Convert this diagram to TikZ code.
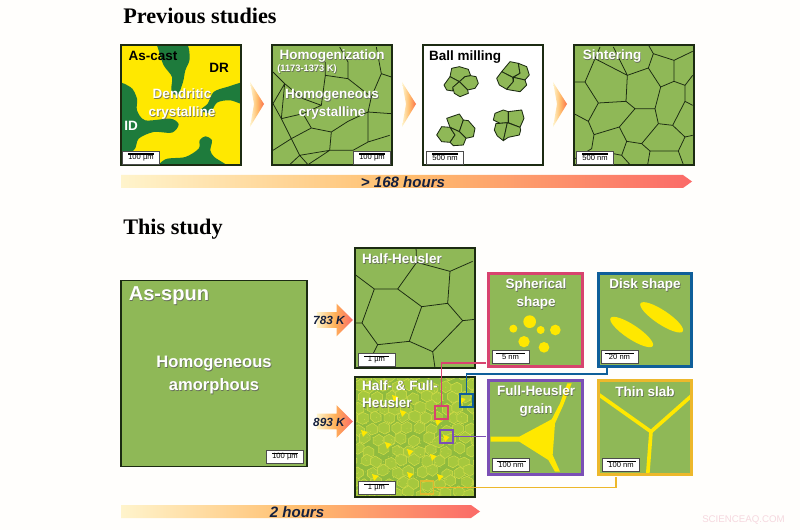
\documentclass[tikz,border=0pt]{standalone}
\usepackage{fontspec}
\setmainfont{Liberation Sans}
\newfontfamily\titlefont{Liberation Serif}
\usepackage{tikz}
\usetikzlibrary{shapes,arrows,positioning}

\definecolor{pagebg}{HTML}{FFFEFC}
\definecolor{grainfill}{HTML}{8FB857}
\definecolor{panelline}{HTML}{1C2B12}
\definecolor{dendgreen}{HTML}{1E7B3C}
\definecolor{dendyellow}{HTML}{FFE800}
\definecolor{barpale}{HTML}{FFF4CC}
\definecolor{barmid}{HTML}{FFBE6E}
\definecolor{barred}{HTML}{FB6A68}
\definecolor{labelblue}{HTML}{16213F}
\definecolor{pinkline}{HTML}{D8436F}
\definecolor{blueline}{HTML}{0F5F9A}
\definecolor{purpleline}{HTML}{7B4FB5}
\definecolor{goldline}{HTML}{EDB82B}
\definecolor{limebg}{HTML}{8FBB3F}
\definecolor{cellgreen}{HTML}{A6C83E}
\definecolor{cellrim}{HTML}{D8E04A}
\definecolor{markpink}{HTML}{F6D8DF}

\tikzset{
  panel/.style={draw=panelline, line width=1.1pt, fill=grainfill, minimum size=3cm, inner sep=0pt},
  inset/.style={draw=#1, line width=2.2pt, fill=grainfill, minimum size=2.33cm, inner sep=0pt},
  grainline/.style={draw=panelline, line width=0.55pt, line join=round},
  crumb/.style={draw=panelline, fill=grainfill, line width=0.6pt, line join=round},
  scalebox/.style={draw=black!70, line width=0.3pt, fill=white, minimum width=0.92cm, minimum height=0.32cm,
    inner sep=0pt, font=\fontsize{5.4}{6}\selectfont},
  scaleline/.style={draw=black, line width=1.1pt},
  plainlbl/.style={font=\fontsize{9.6}{11.5}\selectfont\bfseries, align=center, inner sep=0pt},
  whitelbl/.style={plainlbl, text=white},
  shadelbl/.style={plainlbl, text=black!65, opacity=0.75},
  titlelbl/.style={font=\titlefont\fontsize{15.8}{18}\selectfont\bfseries, anchor=west, inner sep=0pt},
  timelbl/.style={font=\fontsize{10.7}{12}\selectfont\bfseries\itshape, text=labelblue, inner sep=0pt},
  templbl/.style={font=\fontsize{8.4}{10}\selectfont\bfseries\itshape, text=labelblue, inner sep=0pt},
  timebar/.style={left color=barpale, right color=barred, middle color=barmid},
  temparrow/.style={shape=single arrow, left color=barpale, right color=barred, middle color=barmid!80!orange,
    minimum width=0.8cm, minimum height=0.9cm, single arrow head extend=0.21cm, single arrow tip angle=90,
    inner xsep=0pt, inner ysep=0.19cm},
  link/.style={line width=1.05pt, line join=miter},
  pickbox/.style={draw=#1, line width=1.05pt, minimum size=0.32cm, inner sep=0pt},
}

% white panel label with its soft shadow
\newcommand{\shlabel}[4][]{%
  \node[shadelbl, #1] (#2s) at ([shift={(0.7,0.8)}]#3) {#4};
  \node[whitelbl, #1] (#2) at (#3) {#4};
}
% scale box with its black bar
\newcommand{\scalebar}[4]{%
  \node[scalebox] (#1) at (#2) {\raisebox{-2pt}{#4}};
  \coordinate (#1bar) at ([yshift=-2.2pt]#1.north);
  \draw[scaleline] ([xshift=-#3*0.0125cm]#1bar) -- ([xshift=#3*0.0125cm]#1bar);
}
% bar with an arrow end
\newcommand{\timearrow}[3]{%
  \shade[timebar] (121,#1) -- (#2,#1) -- (#3,#1+6.5) -- (#2,#1+13) -- (121,#1+13) -- cycle;
}
% chevron between two panels
\newcommand{\chevron}[1]{%
  \shade[left color=barpale, right color=barred!70!orange, middle color=barmid] (#1,82) -- (#1+14,104) -- (#1,127) -- (#1+4,104) -- cycle;
}
% clip to the inside of a panel's border
\newcommand{\clipinside}[2]{%
  \clip ([shift={(#2,#2)}]#1.north west) rectangle ([shift={(-#2,-#2)}]#1.south east);
}

\begin{document}
\begin{tikzpicture}[x=0.025cm, y=-0.025cm]
  \useasboundingbox (0,0) rectangle (800,530);
  \fill[pagebg] (0,0) rectangle (800,530);

  % Titles
  \node[titlelbl] (prevtitle) at (123,16) {Previous studies};
  \node[titlelbl] (thistitle) at (123,229) {This study};

  % As-cast
  \node[panel, fill=dendyellow] (ascast) at (181,105) {};
  \begin{scope}[shift={(117,42)}, scale=1/3]
    \clipinside{ascast}{6}
    \fill[dendgreen] plot [smooth cycle] coordinates {(125,0) (125,25) (140,70) (165,105) (163,145) (182,160) (198,120) (205,85) (218,50) (205,0)};
    \fill[dendgreen] plot [smooth cycle] coordinates {(400,120) (330,135) (290,150) (272,185) (250,205) (280,212) (300,182) (340,175) (400,190)};
    \fill[dendgreen] plot [smooth cycle] coordinates {(-10,135) (40,135) (60,170) (60,205) (85,235) (160,230) (185,247) (165,272) (110,270) (65,290) (50,325) (-10,345)};
    \fill[dendgreen] plot [smooth cycle] coordinates {(130,385) (145,352) (205,345) (245,320) (248,295) (265,283) (285,295) (280,325) (292,345) (335,385)};
  \end{scope}
  \node[plainlbl] (ascastlbl) at (153,56) {As-cast};
  \node[plainlbl] (drlbl) at (219,68) {DR};
  \node[whitelbl] (idlbl) at (131,126) {ID};
  \shlabel{dendlbl}{182,104}{Dendritic\\[1pt]crystalline}
  \scalebar{ascastbar}{141,157.5}{26}{100 µm}

  % Homogenization
  \node[panel] (homog) at (332,105) {};
  \begin{scope}[shift={(268,42)}, scale=1/3]
    \clipinside{homog}{3}
    \draw[grainline] (325,15) -- (340,95) -- (370,105) (340,95) -- (310,165) -- (240,110) -- (240,60) -- (215,15)
      (240,110) -- (172,100) -- (160,190) -- (105,215) -- (130,258) -- (190,270) -- (240,238) -- (300,210) -- (370,215)
      (310,165) -- (300,210) -- (300,300) -- (365,280) (300,300) -- (255,325) -- (185,325)
      (15,90) -- (50,125) -- (15,185) (50,125) -- (105,170) -- (160,190) (172,100) -- (172,60)
      (50,125) -- (40,230) -- (15,185) (40,230) -- (105,215) (40,230) -- (70,290) -- (130,258) (70,290) -- (15,325)
      (70,290) -- (95,340) -- (185,325) -- (190,270) (185,325) -- (120,368) (95,340) -- (65,368) (95,340) -- (120,368);
  \end{scope}
  \shlabel{homoglbl}{332,56}{Homogenization}
  \shlabel[font=\fontsize{6.6}{8}\selectfont\bfseries]{templbl}{307,69}{(1173-1373 K)}
  \shlabel{homogbody}{332,104}{Homogeneous\\[1pt]crystalline}
  \scalebar{homogbar}{372,157.5}{26}{100 µm}

  % Ball milling
  \node[panel, fill=white] (ball) at (483,105) {};
  \begin{scope}[shift={(400,30)}, scale=1/3]
    \foreach \crumbpts in {
      {(150,140) (155,115) (178,110) (205,118) (212,137) (195,140) (178,155)},
      {(150,140) (178,155) (160,172) (158,183) (140,180) (132,165)},
      {(195,140) (212,137) (228,140) (235,160) (225,175) (203,180) (178,155)},
      {(178,155) (203,180) (205,190) (180,200) (163,190) (158,172)},
      {(305,125) (330,95) (355,100) (360,130) (338,142)},
      {(355,100) (380,110) (388,135) (375,150) (340,142) (360,130)},
      {(305,125) (338,142) (340,155) (320,178) (298,165) (290,145)},
      {(340,142) (375,150) (380,165) (360,185) (330,180) (320,178) (340,155)},
      {(140,265) (178,252) (190,270) (178,305) (150,292)},
      {(190,270) (205,272) (225,295) (220,320) (198,325) (178,305)},
      {(125,290) (150,292) (165,315) (150,337) (125,335) (110,315)},
      {(150,292) (178,305) (198,325) (190,345) (160,347) (150,337) (165,315)},
      {(285,250) (310,240) (325,245) (325,278) (300,280) (280,270)},
      {(325,245) (365,240) (372,265) (360,292) (325,278)},
      {(288,280) (300,280) (322,278) (315,310) (310,332) (292,318) (283,300)},
      {(322,278) (360,292) (362,300) (358,315) (325,322) (310,332) (315,310)}}
    {
      \draw[crumb] plot [sharp cycle] coordinates \crumbpts;
    }
  \end{scope}
  \node[plainlbl] (balllbl) at (465,57) {Ball milling};
  \scalebar{ballbar}{445,157.5}{26}{500 nm}

  % Sintering
  \node[panel] (sinter) at (634,105) {};
  \begin{scope}[shift={(570,42)}, scale=1/3]
    \clipinside{sinter}{3}
    \draw[grainline] (90,15) -- (75,50) -- (45,120) -- (12,120) (75,50) -- (172,100) -- (235,78) -- (272,135) -- (312,118) -- (345,130) -- (368,100)
      (130,15) -- (172,100) -- (168,178) -- (85,183) -- (45,120) (235,78) -- (250,35) -- (312,55) -- (368,28) (250,35) -- (237,12) (312,55) -- (312,118)
      (345,130) -- (345,178) -- (368,190) (345,178) -- (308,250) -- (265,245) -- (255,200) -- (272,135) (85,183) -- (55,238) -- (12,215) (55,238) -- (72,278) -- (148,255) -- (195,200) -- (168,178)
      (195,200) -- (255,200) (148,255) -- (170,298) -- (215,305) -- (265,245) (215,305) -- (240,327) -- (325,327) -- (345,285) -- (308,250) (345,285) -- (368,280)
      (325,327) -- (340,368) (240,327) -- (233,368) (170,298) -- (155,340) -- (180,368) (155,340) -- (130,335) (72,278) -- (65,320) -- (12,352);
  \end{scope}
  \shlabel{sinterlbl}{612,56}{Sintering}
  \scalebar{sinterbar}{595,157.5}{26}{500 nm}

  % Arrows of the upper row
  \chevron{250}
  \chevron{402}
  \chevron{553}
  \timearrow{175}{683}{692}
  \node[timelbl] (prevtime) at (403,182) {> 168 hours};

  % As-spun
  \node[panel, minimum size=4.65cm] (asspun) at (214,373.5) {};
  \shlabel[font=\fontsize{14.3}{16}\selectfont\bfseries]{asspunlbl}{169,296}{As-spun}
  \shlabel[font=\fontsize{11.8}{15}\selectfont\bfseries]{amorphlbl}{214,375}{Homogeneous\\[1pt]amorphous}
  \scalebar{asspunbar}{285,457}{26}{100 µm}

  % Annealing arrows
  \node[temparrow] (arrowlow) at (331,320) {};
  \node[templbl] (lowlbl) at (329,320) {783 K};
  \node[temparrow] (arrowhigh) at (331,421.5) {};
  \node[templbl] (highlbl) at (329,422) {893 K};

  % Half-Heusler
  \node[panel] (halfh) at (415,308) {};
  \begin{scope}[shift={(351,244)}, scale=1/3]
    \clipinside{halfh}{3}
    \draw[grainline] (195,10) -- (197,55) -- (297,82) -- (365,52) (197,55) -- (140,135) -- (70,135) -- (10,90) (297,82) -- (290,178) -- (212,188) -- (140,135)
      (70,135) -- (33,237) -- (10,237) (33,237) -- (80,302) -- (175,292) -- (212,188) (175,292) -- (245,323) -- (335,230) -- (290,178) (335,230) -- (372,226)
      (245,323) -- (252,372) (80,302) -- (45,372);
  \end{scope}
  \shlabel{halfhlbl}{402,259}{Half-Heusler}
  \scalebar{halfhbar}{376.5,360}{25}{1 µm}

  % Half- and Full-Heusler
  \node[panel, fill=limebg] (mixed) at (415,437) {};
  \begin{scope}
    \clipinside{mixed}{2}
    \pgfmathsetseed{11}
    \foreach \row in {0,...,12} {
      \foreach \col in {0,...,10} {
        \pgfmathsetmacro{\cx}{352+\col*12.5+mod(\row,2)*6.2+rand*2.5}
        \pgfmathsetmacro{\cy}{375+\row*10.8+rand*2.5}
        \draw[cellrim, fill=cellgreen, line width=0.3pt, shift={(\cx,\cy)}]
          plot [sharp cycle] coordinates {(5.4,2.8+rand) (0+rand,6) (-5.4,2.8+rand) (-5.4,-2.8+rand) (0+rand,-6) (5.4,-2.8+rand)};
      }
    }
    \foreach \dotnum in {1,...,300} {
      \pgfmathsetmacro{\dx}{355+60+60*rand}
      \pgfmathsetmacro{\dy}{377+60+60*rand}
      \fill[cellrim] (\dx,\dy) circle (0.4);
    }
    \foreach \tx/\ty in {364/433,388/445,410/452,446/438,438/422,403/413,440/477,410/475,433/457,375/477,462/400,395/398} {
      \fill[dendyellow] (\tx-3,\ty-3) -- (\tx+3.5,\ty-1) -- (\tx-1,\ty+4) -- cycle;
    }
  \end{scope}
  \shlabel[align=left]{mixedlbl}{400,394}{Half- \& Full-\\[1pt]Heusler}
  \scalebar{mixedbar}{376.5,488}{25}{1 µm}

  % Insets
  \node[inset=pinkline] (spherical) at (535.5,320) {};
  \begin{scope}[shift={(480,265)}, scale=1/3]
    \fill[dendyellow] (100,191) circle (12) (149,170) circle (19) (182,195) circle (12)
      (226,195) circle (16) (132,230) circle (17) (192,247) circle (16);
  \end{scope}
  \shlabel{sphericallbl}{536,294}{Spherical\\[1pt]shape}
  \scalebar{sphericalbar}{510.5,357}{29}{5 nm}

  \node[inset=blueline] (disk) at (645,320) {};
  \begin{scope}[shift={(480,265)}, scale=1/3]
    \fill[dendyellow, shift={(455,201)}, rotate=-33.6] (0,0) ellipse (76 and 21);
    \fill[dendyellow, shift={(545,157)}, rotate=-33.6] (0,0) ellipse (76 and 21);
  \end{scope}
  \shlabel{disklbl}{645,285}{Disk shape}
  \scalebar{diskbar}{619.5,357}{29}{20 nm}

  \node[inset=purpleline] (fullh) at (535.5,427.5) {};
  \begin{scope}[shift={(480,265)}, scale=1/3]
    \clipinside{fullh}{10}
    \fill[dendyellow] (30,515) -- (118,515) -- (215,463) -- (240,415) -- (262,355) -- (275,355) -- (250,420) -- (225,475)
      -- (218,570) -- (240,620) -- (225,620) -- (205,585) -- (118,530) -- (30,530) -- cycle;
  \end{scope}
  \shlabel{fullhlbl}{536,401}{Full-Heusler\\[1pt]grain}
  \scalebar{fullhbar}{511,465}{29}{100 nm}

  \node[inset=goldline] (slab) at (645,427.5) {};
  \begin{scope}[shift={(480,265)}, scale=1/3]
    \clipinside{slab}{10}
    \draw[dendyellow, line width=2.6pt] (355,388) -- (513,500) -- (635,392) (513,500) -- (503,630);
  \end{scope}
  \shlabel{slablbl}{645,392}{Thin slab}
  \scalebar{slabbar}{621,465}{29}{100 nm}

  % Pick boxes and their links
  \node[pickbox=pinkline] (pickpink) at (441.5,412.5) {};
  \node[pickbox=blueline] (pickblue) at (466.5,400.5) {};
  \node[pickbox=purpleline] (pickpurple) at (446.5,436.5) {};
  \node[pickbox=goldline, opacity=0.8] (pickgold) at (427,487.5) {};
  \coordinate (pinkin) at (486,363);
  \coordinate (bluejog) at (607,374);
  \coordinate (bluein) at (607,368);
  \coordinate (purplein) at (486,436.5);
  \coordinate (goldjog) at (616,487.5);
  \coordinate (goldin) at (616,477);
  \draw[link, pinkline] (pickpink.north) |- (pinkin);
  \draw[link, blueline] (pickblue.north) |- (bluejog) -- (bluein);
  \draw[link, purpleline] (pickpurple.east) -- (purplein);
  \draw[link, goldline] (pickgold.east) -- (goldjog) -- (goldin);

  % Lower time bar
  \timearrow{505}{471}{480}
  \node[timelbl] (thistime) at (297,512) {2 hours};

  \node[font=\fontsize{6.9}{8}\selectfont, text=markpink, inner sep=0pt] (watermark) at (743.5,520.5) {SCIENCEAQ.COM};
\end{tikzpicture}
\end{document}
